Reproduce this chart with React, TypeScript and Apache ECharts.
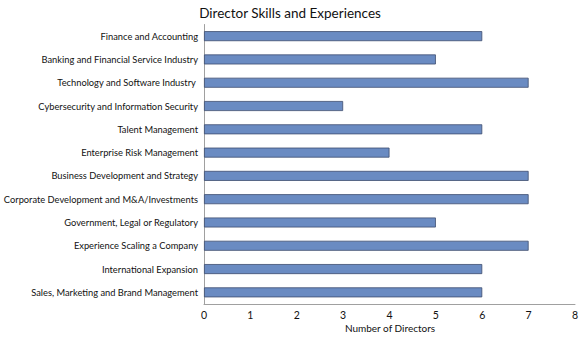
import React, { useEffect, useRef } from "react";
import * as echarts from "echarts";

const skills = [
  "Finance and Accounting",
  "Banking and Financial Service Industry",
  "Technology and Software Industry ",
  "Cybersecurity and Information Security",
  "Talent Management",
  "Enterprise Risk Management",
  "Business Development and Strategy",
  "Corporate Development and M&A/Investments",
  "Government, Legal or Regulatory",
  "Experience Scaling a Company",
  "International Expansion",
  "Sales, Marketing and Brand Management",
];

const directorCounts = [6, 5, 7, 3, 6, 4, 7, 7, 5, 7, 6, 6];

const FONT = "Lato, 'Liberation Sans', Arial, sans-serif";

export default function App() {
  const ref = useRef<HTMLDivElement>(null);

  useEffect(() => {
    if (!ref.current) return;
    const chart = echarts.init(ref.current, null, { renderer: "svg" });
    chart.setOption({
      animation: false,
      backgroundColor: "#ffffff",
      title: [
        {
          text: "Director Skills and Experiences",
          left: 285,
          textAlign: "center",
          top: 1,
          textStyle: {
            fontFamily: FONT,
            fontSize: 13.5,
            fontWeight: "normal",
            color: "#111111",
          },
        },
        {
          // x-axis caption, placed under the tick labels
          text: "Number of Directors",
          left: 390,
          textAlign: "center",
          top: 323,
          padding: 0,
          textStyle: {
            fontFamily: FONT,
            fontSize: 10,
            fontWeight: "normal",
            color: "#111111",
          },
        },
      ],
      grid: {
        left: 204,
        right: 6,
        top: 24.5,
        bottom: 33,
        containLabel: false,
        outerBoundsMode: "none",
      },
      xAxis: {
        type: "value",
        min: 0,
        max: 8,
        interval: 1,
        axisLine: { show: true, lineStyle: { color: "#a0a0a0", width: 1 } },
        axisTick: { show: false },
        splitLine: { show: false },
        axisLabel: { fontFamily: FONT, fontSize: 10.5, color: "#111111", margin: 5 },
      },
      yAxis: {
        type: "category",
        data: skills,
        inverse: true,
        axisLine: { show: true, lineStyle: { color: "#a0a0a0", width: 1 } },
        axisTick: { show: false },
        splitLine: { show: false },
        axisLabel: { fontFamily: FONT, fontSize: 9.3, color: "#111111", margin: 6 },
      },
      series: [
        {
          type: "bar",
          data: directorCounts,
          barWidth: 10,
          itemStyle: {
            color: "#6a8bc2",
            borderColor: "#3d4d6e",
            borderWidth: 0.8,
          },
        },
      ],
    });
    return () => chart.dispose();
  }, []);

  return (
    <div
      ref={ref}
      style={{ position: "absolute", left: 0, top: 0, width: 581, height: 337 }}
    />
  );
}
